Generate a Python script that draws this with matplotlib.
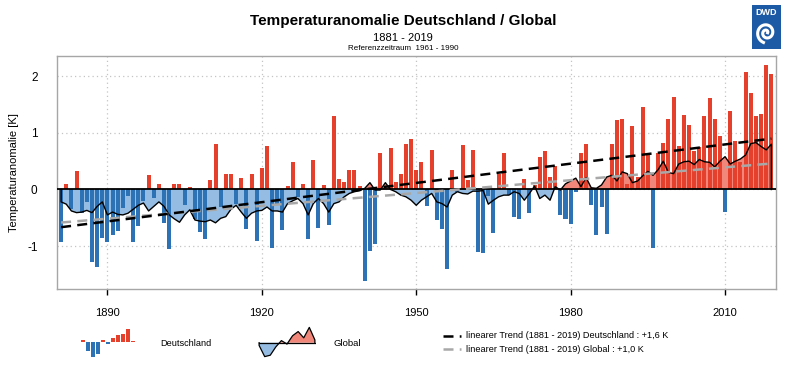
import numpy as np
import matplotlib
matplotlib.use("Agg")
import matplotlib.pyplot as plt
from matplotlib.patches import Rectangle

plt.rcParams["font.family"] = ["Liberation Sans", "DejaVu Sans"]

# Jahre und Anomalien (K, Referenz 1961-1990)
years = np.arange(1881, 2020)

germany = [
    -0.93, 0.09, -0.35, 0.32, -0.42, -0.23, -1.29, -1.38, -0.86, -0.93,
    -0.81, -0.74, -0.33, -0.11, -0.93, -0.65, -0.21, 0.25, -0.15, 0.10,
    -0.60, -1.06, 0.10, 0.10, -0.28, 0.04, -0.53, -0.76, -0.88, 0.16,
    0.80, -0.31, 0.28, 0.27, -0.25, 0.20, -0.70, 0.28, -0.91, 0.38,
    0.76, -1.04, -0.25, -0.71, 0.07, 0.49, -0.13, 0.10, -0.87, 0.52,
    -0.68, 0.08, -0.63, 1.30, 0.18, 0.14, 0.34, 0.35, 0.06, -1.62,
    -1.09, -0.96, 0.64, 0.02, 0.73, 0.14, 0.27, 0.80, 0.89, 0.35,
    0.48, -0.30, 0.70, -0.54, -0.70, -1.40, 0.34, -0.05, 0.78, 0.16,
    0.70, -1.10, -1.13, -0.12, -0.77, 0.27, 0.64, -0.10, -0.48, -0.53,
    0.18, -0.42, 0.08, 0.57, 0.68, 0.22, 0.41, -0.45, -0.52, -0.61,
    -0.04, 0.64, 0.80, -0.27, -0.81, -0.31, -0.79, 0.81, 1.23, 1.24,
    0.10, 1.13, 0.22, 1.46, 0.65, -1.03, 0.64, 0.82, 1.24, 1.63,
    0.77, 1.32, 1.14, 0.68, 0.75, 1.30, 1.61, 1.24, 0.94, -0.40,
    1.39, 0.85, 0.49, 2.08, 1.70, 1.30, 1.33, 2.20, 2.04,
]

global_anom = [
    -0.22, -0.26, -0.38, -0.41, -0.40, -0.37, -0.41, -0.30, -0.22, -0.45,
    -0.40, -0.44, -0.45, -0.42, -0.35, -0.28, -0.24, -0.38, -0.30, -0.22,
    -0.30, -0.45, -0.52, -0.58, -0.45, -0.36, -0.54, -0.56, -0.57, -0.54,
    -0.59, -0.51, -0.48, -0.35, -0.28, -0.40, -0.51, -0.42, -0.38, -0.37,
    -0.31, -0.38, -0.38, -0.40, -0.25, -0.20, -0.16, -0.25, -0.45, -0.25,
    -0.16, -0.25, -0.40, -0.25, -0.22, -0.13, -0.07, -0.04, -0.02, 0.02,
    0.12, -0.01, -0.01, 0.12, 0.00, -0.04, -0.10, -0.13, -0.19, -0.28,
    -0.19, -0.13, -0.07, -0.22, -0.25, -0.31, -0.10, -0.04, -0.07, -0.08,
    -0.03, -0.03, -0.02, -0.26, -0.19, -0.13, -0.10, -0.10, -0.04, -0.07,
    -0.19, -0.07, 0.06, -0.16, -0.10, -0.19, 0.05, -0.01, 0.10, 0.15,
    0.20, 0.05, 0.21, 0.03, 0.02, 0.08, 0.22, 0.25, 0.15, 0.31,
    0.28, 0.12, 0.15, 0.24, 0.32, 0.25, 0.35, 0.50, 0.30, 0.28,
    0.45, 0.49, 0.50, 0.44, 0.53, 0.49, 0.48, 0.40, 0.50, 0.58,
    0.45, 0.50, 0.54, 0.61, 0.81, 0.83, 0.76, 0.70, 0.80,
]

x_ticks = [1890, 1920, 1950, 1980, 2010]
y_ticks = [-1, 0, 1, 2]

# kleine Legendensymbole
icon_de = [0.15, -0.6, -1.0, -0.8, 0.15, -0.15, 0.3, 0.45, 0.55, 0.9, 0.1]
icon_gl = [-0.2, -1.0, -0.9, -0.3, 0.15, -0.1, 0.5, 0.8, 0.35, 1.1, 0.2]

RED = "#e5402b"
BLUE = "#2c72b5"
LIGHT_BLUE = "#95bde3"
SALMON = "#f1877a"

de = np.array(germany)
gl = np.array(global_anom)

fig = plt.figure(figsize=(8, 3.81), dpi=100)
ax = fig.add_axes([0.07125, 0.2415, 0.89875, 0.6115])

# globale Kurve als Flaeche
ax.fill_between(years, gl, 0, where=gl < 0, interpolate=True,
                color=LIGHT_BLUE, lw=0, zorder=1)
ax.fill_between(years, gl, 0, where=gl >= 0, interpolate=True,
                color=SALMON, lw=0, zorder=1)

# Balken Deutschland
colors = [RED if v >= 0 else BLUE for v in de]
ax.bar(years, de, width=0.78, color=colors, lw=0, zorder=2)

# Umriss der globalen Flaeche
px = np.concatenate([[years[0]], years, [years[-1]]])
py = np.concatenate([[0], gl, [0]])
ax.plot(px, py, color="black", lw=1.0, zorder=4)

ax.axhline(0, color="black", lw=1.3, zorder=4)

# lineare Trends
p_de = np.polyfit(years, de, 1)
p_gl = np.polyfit(years, gl, 1)
ax.plot(years, np.polyval(p_gl, years), color="#a8a8a8", lw=1.8,
        dashes=(4, 2.5), zorder=5)
ax.plot(years, np.polyval(p_de, years), color="black", lw=1.8,
        dashes=(4, 2.5), zorder=5)

ax.set_xlim(1880.2, 2019.9)
ax.set_ylim(-1.76, 2.36)
ax.set_xticks(x_ticks)
ax.set_yticks(y_ticks)
ax.set_xticklabels([str(t) for t in x_ticks], fontsize=8)
ax.set_yticklabels([str(t) for t in y_ticks], fontsize=8.5)
ax.tick_params(axis="x", direction="out", length=4, width=1, pad=10,
               color="black")
ax.tick_params(axis="y", length=0, pad=14)
ax.grid(True, ls=(0, (1, 2.5)), color="#c4c4c4", lw=0.9, zorder=0)
ax.set_axisbelow(True)
for sp in ax.spines.values():
    sp.set_color("#a6a6a6")
    sp.set_linewidth(1.0)
ax.set_ylabel("Temperaturanomalie [K]", fontsize=8, labelpad=6)

# Titel
fig.text(0.504, 0.945, "Temperaturanomalie Deutschland / Global",
         ha="center", va="center", fontsize=11, fontweight="bold")
fig.text(0.504, 0.900, "1881 - 2019", ha="center", va="center", fontsize=8)
fig.text(0.504, 0.872, "Referenzzeitraum  1961 - 1990", ha="center",
         va="center", fontsize=5.8)

# DWD Logo
lax = fig.add_axes([752 / 800, 1 - 49 / 381, 29 / 800, 44 / 381])
lax.set_xlim(0, 1)
lax.set_ylim(0, 1)
lax.axis("off")
lax.add_patch(Rectangle((0, 0), 1, 1, color="#1d5aa6"))
lax.text(0.5, 0.84, "DWD", color="white", fontsize=6.5, fontweight="bold",
         ha="center", va="center")
t = np.linspace(0, 3.4 * np.pi, 200)
r = 0.05 + 0.11 * t / np.pi
lax.plot(0.5 + r * np.cos(t) * 0.8, 0.37 + r * np.sin(t) * 0.55,
         color="white", lw=2.2)

# Legende Deutschland
iax = fig.add_axes([80 / 800, 1 - 357 / 381, 56 / 800, 30 / 381])
iax.bar(range(len(icon_de)), icon_de, width=0.7,
        color=[RED if v >= 0 else BLUE for v in icon_de], lw=0)
iax.set_xlim(-0.6, len(icon_de) - 0.4)
iax.set_ylim(-1.0, 1.0)
iax.axis("off")
fig.text(160 / 800, 1 - 343 / 381, "Deutschland", fontsize=6.6, va="center")

# Legende Global
gax = fig.add_axes([258 / 800, 1 - 358 / 381, 58 / 800, 32 / 381])
gi = np.array(icon_gl)
gx = np.arange(len(gi))
gax.fill_between(gx, gi, 0, where=gi < 0, interpolate=True,
                 color=LIGHT_BLUE, lw=0)
gax.fill_between(gx, gi, 0, where=gi >= 0, interpolate=True,
                 color=SALMON, lw=0)
gax.plot(np.concatenate([[0], gx, [gx[-1]]]),
         np.concatenate([[0], gi, [0]]), color="black", lw=0.9)
gax.plot([0, gx[-1]], [0, 0], color="black", lw=0.9)
gax.set_xlim(-0.2, len(gi) - 0.8)
gax.set_ylim(-1.1, 1.2)
gax.axis("off")
fig.text(333 / 800, 1 - 343 / 381, "Global", fontsize=6.8, va="center")

# Legende Trends
fig.lines.append(plt.Line2D([443 / 800, 461 / 800],
                            [1 - 336 / 381, 1 - 336 / 381],
                            transform=fig.transFigure, color="black",
                            lw=1.8, dashes=(4, 2.5)))
fig.lines.append(plt.Line2D([443 / 800, 461 / 800],
                            [1 - 349 / 381, 1 - 349 / 381],
                            transform=fig.transFigure, color="#a8a8a8",
                            lw=1.8, dashes=(4, 2.5)))
fig.text(466 / 800, 1 - 336 / 381,
         "linearer Trend (1881 - 2019) Deutschland : +1,6 K",
         fontsize=6.6, va="center")
fig.text(466 / 800, 1 - 349 / 381,
         "linearer Trend (1881 - 2019) Global : +1,0 K",
         fontsize=6.6, va="center")

fig.savefig("out.png", dpi=100)
